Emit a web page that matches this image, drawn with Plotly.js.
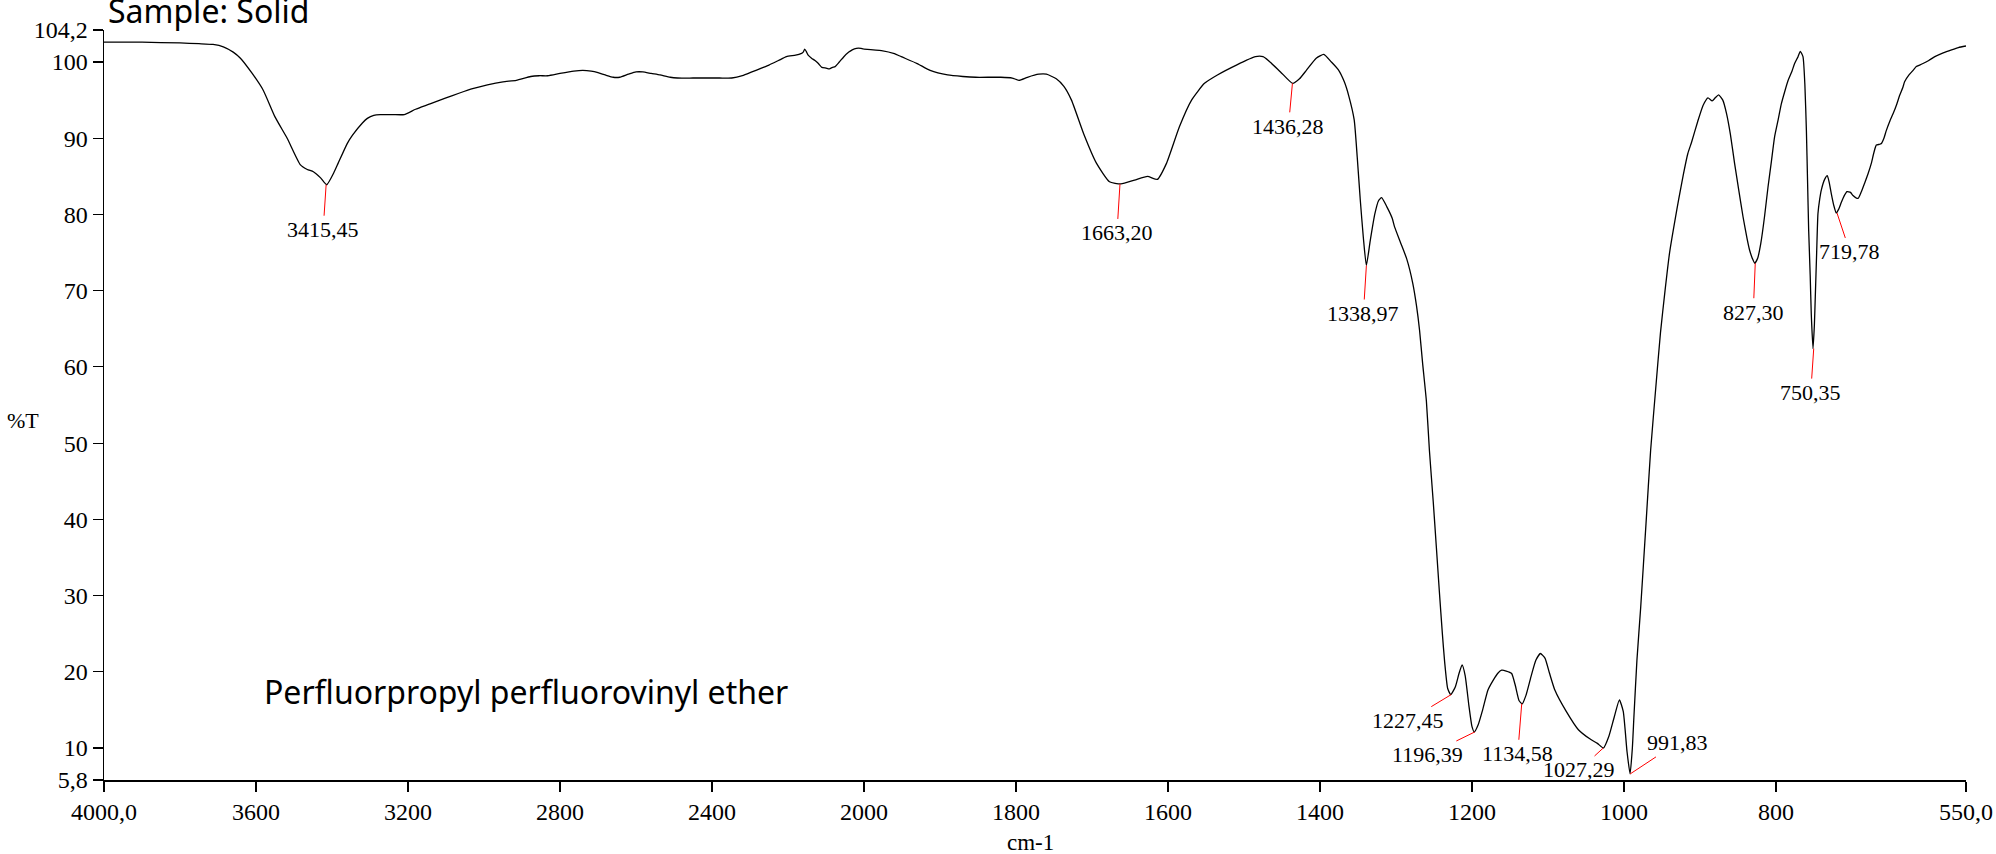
<!DOCTYPE html>
<html>
<head>
<meta charset="utf-8">
<script src="https://cdn.plot.ly/plotly-3.0.1.min.js"></script>
<style>html,body{margin:0;padding:0;background:#fff;}#chart{width:1996px;height:854px;}</style>
</head>
<body>
<div id="chart"></div>
<script>
// ---- Data (wavenumber cm-1, %T) ----
const wnHigh = [4000,3900,3800,3750,3713,3686,3660,3641,3610,3581,3550,3518,3483,3465,3449,3430,3414,3395,3384,3360,3346,3320,3307,3290,3273,3240,3210,3180,3142,3100,3066,3030,2991,2950,2915,2877,2855,2832,2800,2764,2740,2718,2700,2681,2660,2643,2620,2600,2582,2560,2537,2510,2491,2450,2416,2380,2348,2320,2295,2270,2250,2225,2204,2180,2166,2160,2156,2152,2147,2138,2129,2120,2111,2100,2091,2083,2076,2065,2053,2040,2031,2020,2008,2000];
const tHigh  = [102.6,102.6,102.5,102.4,102.3,102.0,101.3,100.5,98.5,96.3,92.8,90.0,86.5,85.9,85.6,84.8,83.9,85.5,86.7,89.3,90.4,92.0,92.6,93.0,93.1,93.1,93.1,93.8,94.5,95.3,95.9,96.5,97.0,97.4,97.6,98.1,98.2,98.2,98.5,98.8,98.9,98.8,98.6,98.3,98.0,98.0,98.4,98.7,98.7,98.5,98.3,98.0,97.9,97.9,97.9,97.9,97.9,98.2,98.7,99.2,99.6,100.2,100.7,100.9,101.1,101.3,101.7,101.4,100.9,100.5,100.2,99.8,99.3,99.2,99.1,99.3,99.4,100.0,100.7,101.3,101.6,101.8,101.8,101.7];

const wnLow = [2000,1977,1960,1951,1930,1913,1890,1870,1853,1820,1805,1796,1785,1770,1760,1747,1737,1727,1711,1694,1677,1662,1644,1627,1614,1602,1585,1569,1552,1535,1510,1485,1475,1468,1452,1436,1427,1418,1405,1395,1385,1376,1368,1362,1355,1351,1347,1343,1339,1334,1328,1323,1319,1312,1305,1302,1294,1286,1278,1273,1269,1265,1260,1256,1251,1247,1243,1239,1236,1232,1228,1222,1217,1213,1209,1204,1200,1197,1192,1186,1179,1172,1166,1161,1155,1148,1143,1138,1134,1129,1122,1116,1110,1104,1098,1091,1076,1060,1045,1035,1027,1020,1013,1006,1001,996,992,989,987,983,978,971,965,958,952,946,940,933,928,922,916,911,903,896,889.5,884,880,875.5,870,865,860,854.5,849,843.4,838,834.7,831,828,824,820,815,810.5,806,801.8,797,793,788,784,779,775.5,771,768,764.5,762,760,758.5,757,755,753.6,751.3,749.5,748.3,746.5,744.8,742.5,740.4,736,732.5,730,727.2,724,720.7,717.5,714,710,706.6,702,698.7,692,688,683.4,679,674.6,671,668,664,661.4,658,654.9,650,646,641,637.4,633,630.8,625,619.7,615.4,611,606.6,599,591,580,569,560,550];
const tLow  = [101.7,101.5,101.1,100.7,99.8,98.9,98.3,98.1,98.0,98.0,97.9,97.6,98.0,98.4,98.4,97.8,96.8,95.0,90.6,86.7,84.3,84.0,84.5,85.0,84.6,86.7,91.5,95.0,97.2,98.3,99.6,100.7,100.7,100.2,98.7,97.2,97.8,98.9,100.5,101.0,100.0,99.0,97.4,95.5,92.4,87.5,81.9,77.0,73.3,76.5,80.0,81.8,82.2,81.0,79.5,78.4,76.3,74.2,71.0,68.0,64.8,60.5,55.5,49.0,42.3,36.5,30.6,25.0,21.3,17.8,17.0,18.0,19.8,20.9,19.5,15.5,12.8,12.1,13.0,15.0,17.6,18.9,19.8,20.2,20.1,19.8,18.2,16.2,15.8,16.9,19.5,21.5,22.4,21.8,19.8,17.6,14.8,12.4,11.2,10.6,10.0,11.5,14.0,16.3,14.8,9.5,6.6,10.0,14.0,21.5,28.5,39.5,49.0,57.5,64.5,70.0,75.0,79.2,82.0,85.2,88.0,89.5,92.2,94.3,95.3,94.9,95.3,95.7,95.0,93.2,90.5,86.7,83.2,79.7,76.8,75.3,74.2,73.6,74.3,76.2,79.8,83.6,87.0,90.2,92.5,94.5,96.3,97.6,98.8,99.8,100.7,101.4,100.7,97.0,91.0,84.5,77.9,72.0,67.0,62.4,65.5,69.2,75.0,80.1,82.0,83.2,84.6,85.1,84.2,82.7,81.2,80.2,80.7,81.6,82.5,83.0,82.9,82.5,82.1,82.9,84.1,85.3,86.7,88.2,89.1,89.2,89.3,90.0,91.0,92.3,93.2,94.5,95.6,96.7,97.4,98.3,98.9,99.4,99.6,99.8,100.2,100.7,101.2,101.6,101.9,102.1];

// Peak picks
const peakLabels = ["3415,45","1663,20","1436,28","1338,97","1227,45","1196,39","1134,58","1027,29","991,83","827,30","750,35","719,78"];
const peakWn     = [3415.45,1663.20,1436.28,1338.97,1227.45,1196.39,1134.58,1027.29,991.83,827.30,750.35,719.78];
const peakT      = [83.9,84.0,97.2,73.3,17.0,12.1,15.8,10.0,6.6,73.6,62.4,80.2];

// Axis ticks
const xHighTicks = [4000,3600,3200,2800,2400];
const xHighText  = ["4000,0","3600","3200","2800","2400"];
const xLowTicks  = [2000,1800,1600,1400,1200,1000,800,550];
const xLowText   = ["2000","1800","1600","1400","1200","1000","800","550,0"];
const yTicks     = [5.8,10,20,30,40,50,60,70,80,90,100,104.2];
const yText      = ["5,8","10","20","30","40","50","60","70","80","90","100","104,2"];

// label offsets (pixels) for the peak-pick leader lines
const labelOffsets = [[-3,45],[-3,49],[-4,43],[-3,48],[-43,26],[-47,23],[-4,50],[-24,22],[47,-31],[-2,49],[-3,44],[13,39]];

const serif = "Liberation Serif, Times New Roman, serif";
const split = 2000 / (2000 + 2 * 1450);

const lineStyle = {color: "#000", width: 1.3, shape: "spline", smoothing: 0.5};
const traces = [
  {x: wnHigh, y: tHigh, xaxis: "x", yaxis: "y", type: "scatter", mode: "lines", line: lineStyle, hoverinfo: "skip"},
  {x: wnLow, y: tLow, xaxis: "x2", yaxis: "y", type: "scatter", mode: "lines", line: lineStyle, hoverinfo: "skip"}
];

const axisCommon = {
  showgrid: false, zeroline: false, showline: true, linecolor: "#000", linewidth: 1.5,
  ticks: "outside", ticklen: 10, tickwidth: 1.2, tickcolor: "#000",
  tickfont: {family: serif, size: 24, color: "#000"}, tickmode: "array"
};

const annotations = peakLabels.map((lab, i) => ({
  x: peakWn[i], y: peakT[i], xref: peakWn[i] >= 2000 ? "x" : "x2", yref: "y",
  text: lab, showarrow: true, arrowhead: 0, arrowwidth: 1, arrowcolor: "#ff0000",
  ax: labelOffsets[i][0], ay: labelOffsets[i][1], standoff: 0, startstandoff: 0,
  font: {family: serif, size: 22, color: "#000"}
}));

annotations.push(
  {xref: "paper", yref: "paper", x: 0.001, y: 1, xanchor: "left", yanchor: "bottom", yshift: -4,
   text: "Sample: Solid", showarrow: false, font: {family: "Noto Sans, sans-serif", size: 32, color: "#000"}},
  {xref: "paper", yref: "paper", x: (262 - 104) / 1862, y: (780 - 691) / 750, xanchor: "left", yanchor: "middle",
   text: "Perfluorpropyl perfluorovinyl ether", showarrow: false, font: {family: "Noto Sans, sans-serif", size: 32, color: "#000"}},
  {xref: "paper", yref: "paper", x: (23 - 104) / 1862, y: (780 - 420) / 750, xanchor: "center", yanchor: "middle",
   text: "%T", showarrow: false, font: {family: serif, size: 22, color: "#000"}},
  {xref: "paper", yref: "paper", x: (1030 - 104) / 1862, y: (780 - 842) / 750, xanchor: "center", yanchor: "middle",
   text: "cm-1", showarrow: false, font: {family: serif, size: 23, color: "#000"}}
);

const layout = {
  width: 1996, height: 854,
  margin: {l: 104, r: 30, t: 30, b: 74},
  paper_bgcolor: "#fff", plot_bgcolor: "#fff",
  showlegend: false,
  xaxis: Object.assign({}, axisCommon, {domain: [0, split], range: [4000, 2000], anchor: "y",
    tickvals: xHighTicks, ticktext: xHighText}),
  xaxis2: Object.assign({}, axisCommon, {domain: [split, 1], range: [2000, 550], anchor: "y",
    tickvals: xLowTicks, ticktext: xLowText}),
  yaxis: Object.assign({}, axisCommon, {range: [5.8, 104.2], anchor: "x",
    tickvals: yTicks, ticktext: yText}),
  annotations: annotations
};

Plotly.newPlot("chart", traces, layout, {staticPlot: true, displayModeBar: false});
</script>
</body>
</html>
